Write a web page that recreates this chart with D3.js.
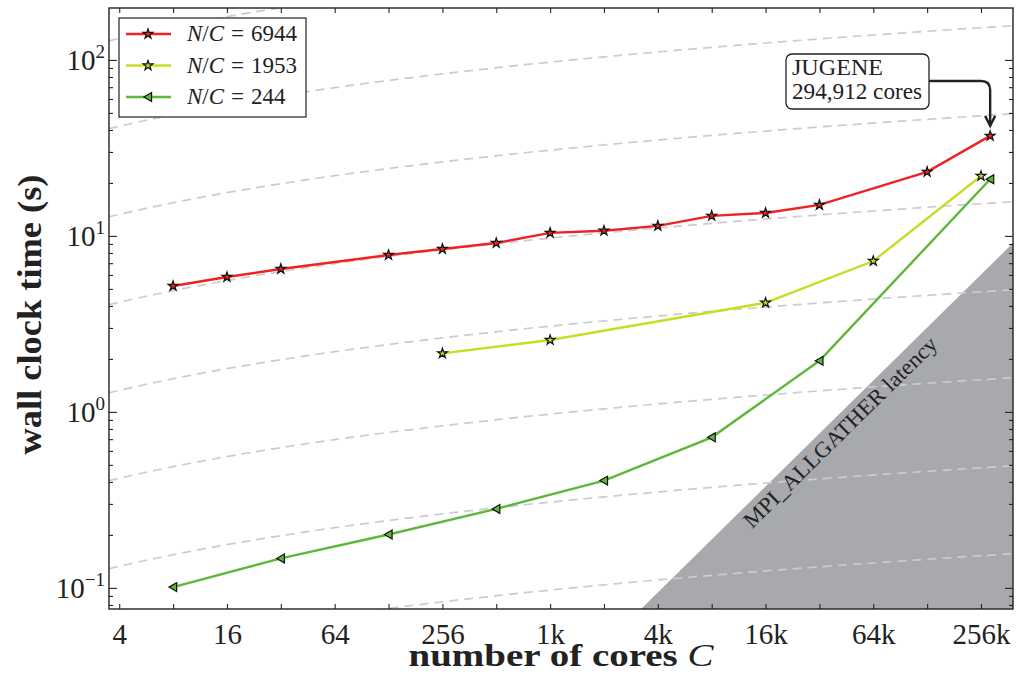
<!DOCTYPE html>
<html>
<head>
<meta charset="utf-8">
<script src="https://cdn.jsdelivr.net/npm/d3@7"></script>
<style>
  body { margin: 0; background: #fff; }
</style>
</head>
<body>
<svg id="chart" width="1016" height="676"></svg>
<script>
// ==================================
// Data
// ==================================
const coresRed = [8, 16, 32, 128, 256, 512, 1024, 2048, 4096, 8192, 16384, 32768, 131072, 294912];
const timeRed = [5.19, 5.84, 6.49, 7.79, 8.43, 9.11, 10.4, 10.7, 11.4, 13.0, 13.5, 15.0, 23.1, 37.0];

const coresYellow = [256, 1024, 16384, 65536, 262144];
const timeYellow = [2.15, 2.56, 4.17, 7.2, 21.9];

const coresGreen = [8, 32, 128, 512, 2048, 8192, 32768, 294912];
const timeGreen = [0.101, 0.147, 0.201, 0.281, 0.407, 0.717, 1.95, 21.0];

const seriesLabels = ["6944", "1953", "244"];
const seriesColors = ["#ee2222", "#c9dc22", "#5cb73a"];

const xTickValues = [4, 16, 64, 256, 1024, 4096, 16384, 65536, 262144];
const xTickLabels = ["4", "16", "64", "256", "1k", "4k", "16k", "64k", "256k"];
const yTickExponents = [-1, 0, 1, 2];

// dashed guides t = c * (log2 C + 4.08), half a decade apart
const guideLevels = [0.0069, 0.0218, 0.069, 0.218, 0.69, 2.18, 6.9, 21.8];
// MPI_ALLGATHER latency grows linearly with C
const latencyPerCore = 2.3e-5;

const FONT = "'Liberation Serif', 'DejaVu Serif', serif";

// ==================================
// Setting the stage
// ==================================
const svg = d3.select("#chart");
const margin = {top: 8, right: 3, bottom: 67, left: 109};
const width = +svg.attr("width");
const height = +svg.attr("height");
const innerWidth = width - margin.left - margin.right;
const innerHeight = height - margin.top - margin.bottom;

const chart = svg.append("g")
  .attr("transform", `translate(${margin.left}, ${margin.top})`);

const xMin = Math.pow(2, 1.81), xMax = Math.pow(2, 18.594);
const yMin = Math.pow(10, -1.12), yMax = Math.pow(10, 2.295);

const xScale = d3.scaleLog().base(2).domain([xMin, xMax]).range([0, innerWidth]);
const yScale = d3.scaleLog().domain([yMin, yMax]).range([innerHeight, 0]);

svg.append("defs").append("clipPath").attr("id", "plotClip")
  .append("rect").attr("width", innerWidth).attr("height", innerHeight);

const plot = chart.append("g").attr("clip-path", "url(#plotClip)");

// ==================================
// Latency triangle
// ==================================
const cLow = yMin / latencyPerCore;
const p1 = [xScale(cLow), yScale(yMin)];
const p2 = [xScale(xMax), yScale(latencyPerCore * xMax)];
plot.append("path")
  .attr("d", `M${p1[0]},${p1[1]} L${p2[0]},${p2[1]} L${xScale(xMax)},${yScale(yMin)} Z`)
  .attr("fill", "#a8a9ad");

// ==================================
// Dashed guide curves
// ==================================
const guideC = d3.range(0, 101).map(i => Math.pow(2, 1.81 + i * (18.594 - 1.81) / 100));
const guideLine = d3.line()
  .x(d => xScale(d.c))
  .y(d => yScale(d.t));
guideLevels.forEach(c => {
  plot.append("path")
    .datum(guideC.map(cc => ({c: cc, t: c * (Math.log2(cc) + 4.08)})))
    .attr("d", guideLine)
    .attr("fill", "none")
    .attr("stroke", "#cccccc")
    .attr("stroke-width", 1.7)
    .attr("stroke-dasharray", "9,6");
});

// latency label along the edge
const len = Math.hypot(p2[0] - p1[0], p2[1] - p1[1]);
const u = [(p2[0] - p1[0]) / len, (p2[1] - p1[1]) / len];
const n = [-u[1], u[0]];
const angle = Math.atan2(u[1], u[0]) * 180 / Math.PI;
const lx = p1[0] + 266 * u[0] + 21 * n[0];
const ly = p1[1] + 266 * u[1] + 21 * n[1];
chart.append("text")
  .attr("transform", `translate(${lx},${ly}) rotate(${angle})`)
  .attr("text-anchor", "middle")
  .style("font-family", FONT)
  .style("font-size", "22px")
  .attr("fill", "#222")
  .attr("textLength", 262)
  .attr("lengthAdjust", "spacingAndGlyphs")
  .text("MPI_ALLGATHER latency");

// ==================================
// Series
// ==================================
const series = [
  {cores: coresRed, times: timeRed, marker: "star"},
  {cores: coresYellow, times: timeYellow, marker: "star"},
  {cores: coresGreen, times: timeGreen, marker: "tri"}
];

const line = d3.line().x(d => xScale(d[0])).y(d => yScale(d[1]));
const starPath = d3.symbol().type(d3.symbolStar).size(30)();
const triPath = d3.symbol().type(d3.symbolTriangle).size(34)();

function drawMarker(g, kind, cx, cy, color) {
  g.append("path")
    .attr("d", kind === "star" ? starPath : triPath)
    .attr("transform", kind === "star" ? `translate(${cx},${cy})` : `translate(${cx + 1},${cy}) rotate(-90)`)
    .attr("fill", color)
    .attr("stroke", "#111")
    .attr("stroke-width", 1.2);
}

series.forEach((s, i) => {
  const pts = s.cores.map((c, j) => [c, s.times[j]]);
  chart.append("path")
    .datum(pts)
    .attr("d", line)
    .attr("fill", "none")
    .attr("stroke", seriesColors[i])
    .attr("stroke-width", 2.4);
  pts.forEach(p => drawMarker(chart, s.marker, xScale(p[0]), yScale(p[1]), seriesColors[i]));
});

// ==================================
// Axes (ticks inward on all sides)
// ==================================
const xAll = d3.range(2, 19).map(e => Math.pow(2, e));
const yMajor = yTickExponents.map(e => Math.pow(10, e));
const yMinor = [];
d3.range(-2, 3).forEach(e => d3.range(2, 10).forEach(m => {
  const v = m * Math.pow(10, e);
  if (v > yMin && v < yMax) yMinor.push(v);
}));

function styleAxis(g) {
  g.select(".domain").remove();
  g.selectAll(".tick line").attr("stroke", "#222").attr("stroke-width", 1.1);
}

chart.append("g")
  .attr("transform", `translate(0, ${innerHeight})`)
  .call(d3.axisBottom(xScale).tickValues(xAll).tickSize(-5).tickPadding(16)
    .tickFormat(d => {
      const k = xTickValues.indexOf(d);
      return k >= 0 ? xTickLabels[k] : "";
    }))
  .call(styleAxis)
  .call(g => g.selectAll("text")
    .attr("dy", null)
    .attr("y", 35)
    .attr("fill", "#222")
    .style("font-family", FONT)
    .style("font-size", "29px"));

chart.append("g")
  .call(d3.axisTop(xScale).tickValues(xAll).tickSize(-5).tickFormat(""))
  .call(styleAxis);

chart.append("g")
  .call(d3.axisLeft(yScale).tickValues(yMajor).tickSize(-8).tickFormat(""))
  .call(styleAxis);
chart.append("g")
  .call(d3.axisLeft(yScale).tickValues(yMinor).tickSize(-4).tickFormat(""))
  .call(styleAxis);
chart.append("g")
  .attr("transform", `translate(${innerWidth}, 0)`)
  .call(d3.axisRight(yScale).tickValues(yMajor).tickSize(-8).tickFormat(""))
  .call(styleAxis);
chart.append("g")
  .attr("transform", `translate(${innerWidth}, 0)`)
  .call(d3.axisRight(yScale).tickValues(yMinor).tickSize(-4).tickFormat(""))
  .call(styleAxis);

// 10^n labels
yTickExponents.forEach(e => {
  const t = chart.append("text")
    .attr("x", -4)
    .attr("y", yScale(Math.pow(10, e)) + 10)
    .attr("text-anchor", "end")
    .attr("fill", "#222")
    .style("font-family", FONT)
    .style("font-size", "29px");
  t.append("tspan").text("10");
  t.append("tspan").attr("dy", -12).style("font-size", "19px")
    .text(e < 0 ? "\u2212" + Math.abs(e) : String(e));
});

// frame
chart.append("rect")
  .attr("width", innerWidth).attr("height", innerHeight)
  .attr("fill", "none").attr("stroke", "#222").attr("stroke-width", 1.4);

// ==================================
// Axis titles
// ==================================
chart.append("text")
  .attr("transform", `translate(-68, ${innerHeight / 2 + 6}) rotate(-90)`)
  .attr("text-anchor", "middle")
  .attr("fill", "#222")
  .style("font-family", FONT)
  .style("font-size", "33px")
  .style("font-weight", "bold")
  .attr("textLength", 280)
  .attr("lengthAdjust", "spacingAndGlyphs")
  .text("wall clock time (s)");

const xt = chart.append("text")
  .attr("x", innerWidth / 2)
  .attr("y", innerHeight + 57)
  .attr("text-anchor", "middle")
  .attr("fill", "#222")
  .style("font-family", FONT)
  .style("font-size", "32px")
  .style("font-weight", "bold")
  .attr("textLength", 305)
  .attr("lengthAdjust", "spacingAndGlyphs");
xt.append("tspan").text("number of cores ");
xt.append("tspan").style("font-style", "italic").style("font-weight", "normal").text("C");

// ==================================
// Legend
// ==================================
const legend = chart.append("g").attr("transform", "translate(10, 10)");
legend.append("rect")
  .attr("width", 187).attr("height", 99)
  .attr("fill", "#fff").attr("stroke", "#222").attr("stroke-width", 1.2);
seriesLabels.forEach((lab, i) => {
  const ly0 = 16 + i * 31.5;
  legend.append("line")
    .attr("x1", 7).attr("x2", 52).attr("y1", ly0).attr("y2", ly0)
    .attr("stroke", seriesColors[i]).attr("stroke-width", 2.4);
  drawMarker(legend, series[i].marker, 29, ly0, seriesColors[i]);
  const t = legend.append("text")
    .attr("x", 68).attr("y", ly0 + 7)
    .attr("fill", "#222")
    .style("font-family", FONT)
    .style("font-size", "23px");
  t.append("tspan").style("font-style", "italic").text("N");
  t.append("tspan").text("/");
  t.append("tspan").style("font-style", "italic").text("C");
  t.append("tspan").attr("dx", 7).text("=");
  t.append("tspan").attr("dx", 7).text(lab);
});

// ==================================
// JUGENE annotation
// ==================================
const tipX = xScale(294912);
const tipY = yScale(37.0) - 10;
const box = chart.append("g");
box.append("rect")
  .attr("x", 677).attr("y", 46).attr("width", 143).attr("height", 55).attr("rx", 6)
  .attr("fill", "#fff").attr("stroke", "#222").attr("stroke-width", 1.3);
box.append("text").attr("x", 683).attr("y", 67)
  .attr("fill", "#222").style("font-family", FONT).style("font-size", "23px")
  .attr("textLength", 91).attr("lengthAdjust", "spacingAndGlyphs")
  .text("JUGENE");
box.append("text").attr("x", 683).attr("y", 91)
  .attr("fill", "#222").style("font-family", FONT).style("font-size", "23px")
  .attr("textLength", 130).attr("lengthAdjust", "spacingAndGlyphs")
  .text("294,912 cores");
chart.append("path")
  .attr("d", `M820,73 H${tipX - 9} Q${tipX},73 ${tipX},82 V${tipY}`)
  .attr("fill", "none").attr("stroke", "#222").attr("stroke-width", 2.4);
chart.append("path")
  .attr("d", `M${tipX - 5},${tipY - 10} L${tipX},${tipY} L${tipX + 5},${tipY - 10}`)
  .attr("fill", "none").attr("stroke", "#222").attr("stroke-width", 2.4);
</script>
</body>
</html>
